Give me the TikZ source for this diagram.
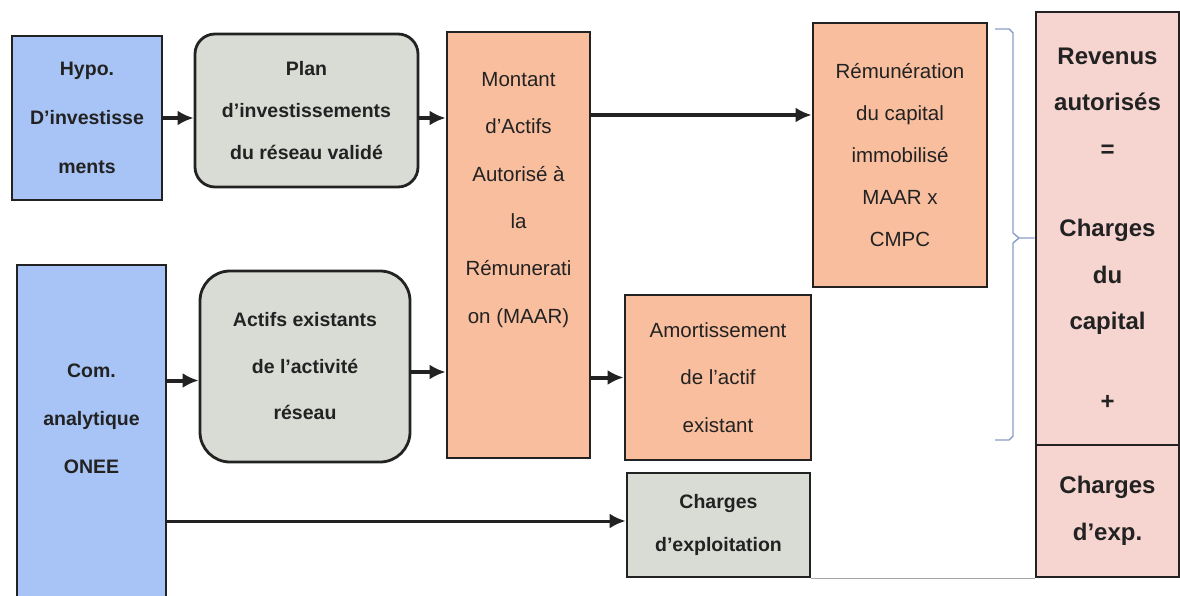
\documentclass[tikz,border=0pt]{standalone}
\usepackage{fontspec}
\setmainfont{Liberation Sans}
\usetikzlibrary{arrows.meta}

\definecolor{hypblue}{HTML}{A8C4F6}
\definecolor{plangrey}{HTML}{D8DCD5}
\definecolor{maarsalmon}{HTML}{F9BE9E}
\definecolor{revpink}{HTML}{F6D5D0}
\definecolor{inkdark}{HTML}{222222}
\definecolor{bracketblue}{HTML}{8A9CC8}

\tikzset{
  box/.style={draw=inkdark, line width=2.8pt, inner sep=0pt, align=center, text=inkdark},
  bluebox/.style={box, fill=hypblue},
  greybox/.style={box, fill=plangrey},
  salmonbox/.style={box, fill=maarsalmon},
  pinkbox/.style={box, fill=revpink},
  txtb/.style={align=center, text=inkdark, font=\bfseries\fontsize{19.5}{#1}\selectfont},
  txtr/.style={align=center, text=inkdark, font=\fontsize{20.5}{#1}\selectfont},
  txtbig/.style={align=center, text=inkdark, font=\bfseries\fontsize{24}{#1}\selectfont},
  flow/.style={line width=4pt, draw=inkdark, -{Latex[length=16pt,width=15pt]}},
}

\begin{document}
\begin{tikzpicture}[x=1pt, y=-1pt]
  \useasboundingbox (0,0) rectangle (1180,596);
  \clip (0,0) rectangle (1180,596);

  % inputs
  \node[bluebox, txtb=49, minimum width=150pt, minimum height=164pt] (hypo) at (87,118) {Hypo.\\D’investisse\\ments};
  \node[bluebox, minimum width=149pt, minimum height=345pt] (com) at (91.5,437.5) {};
  \node[txtb=48] (comtxt) at ([yshift=19pt]com.center) {Com.\\analytique\\ONEE};

  \node[greybox, txtb=42, rounded corners=20pt, minimum width=223pt, minimum height=153pt] (plan) at (306.5,110.5) {Plan\\d’investissements\\du réseau validé};
  \node[greybox, txtb=46.5, rounded corners=30pt, minimum width=210pt, minimum height=191pt] (actifs) at (305,366.5) {Actifs existants\\de l’activité\\réseau};

  % MAAR
  \node[salmonbox, minimum width=143pt, minimum height=426pt] (maar) at (518.5,245) {};
  \node[txtr=47.3] (maartxt) at ([yshift=45pt]maar.center) {Montant\\d’Actifs\\Autorisé à\\la\\Rémunerati\\on (MAAR)};

  % charges
  \node[salmonbox, txtr=42, minimum width=174pt, minimum height=264pt] (remu) at (900,155) {Rémunération\\du capital\\immobilisé\\MAAR x\\CMPC};
  \node[salmonbox, txtr=47.5, minimum width=186pt, minimum height=165pt] (amort) at (718,377.5) {Amortissement\\de l’actif\\existant};
  \node[greybox, txtb=43, minimum width=183pt, minimum height=104pt] (chexp) at (718.5,525) {Charges\\d’exploitation};

  % revenus
  \node[pinkbox, txtbig=46.5, minimum width=143pt, minimum height=433pt] (revcap) at (1107.5,228.5) {Revenus\\autorisés\\=\\[33pt]Charges\\du\\capital\\[33pt]+};
  \node[pinkbox, txtbig=47, minimum width=143pt, minimum height=132pt] (revexp) at (1107.5,511) {Charges\\d’exp.};

  % arrows
  \coordinate (remuin) at ([yshift=40pt]remu.west);
  \coordinate (actin) at ([yshift=-14pt]actifs.west);
  \coordinate (actout) at ([yshift=-5.5pt]actifs.east);
  \coordinate (chin) at ([yshift=4pt]chexp.west);
  \draw[flow] (hypo.east) -- (plan.west |- hypo.east);
  \draw[flow] (plan.east |- hypo.east) -- (maar.west |- hypo.east);
  \draw[flow] (maar.east |- remuin) -- (remuin);
  \draw[flow] (com.east |- actin) -- (actin);
  \draw[flow] (actout) -- (maar.west |- actout);
  \draw[flow] (maar.east |- amort.west) -- (amort.west);
  \draw[flow, line width=3pt] (com.east |- chin) -- (chin);
  \draw[line width=1.6pt, draw=gray!70] (chexp.south east) -- (revexp.south west);

  % bracket
  \draw[line width=1.4pt, bracketblue] (995,29) -- (1009,29) -- (1013,33) -- (1013,233) -- (1019,238) -- (revcap.west |- 0,238);
  \draw[line width=1.4pt, bracketblue] (1019,238) -- (1013,243) -- (1013,436) -- (1009,440) -- (995,440);
\end{tikzpicture}
\end{document}
